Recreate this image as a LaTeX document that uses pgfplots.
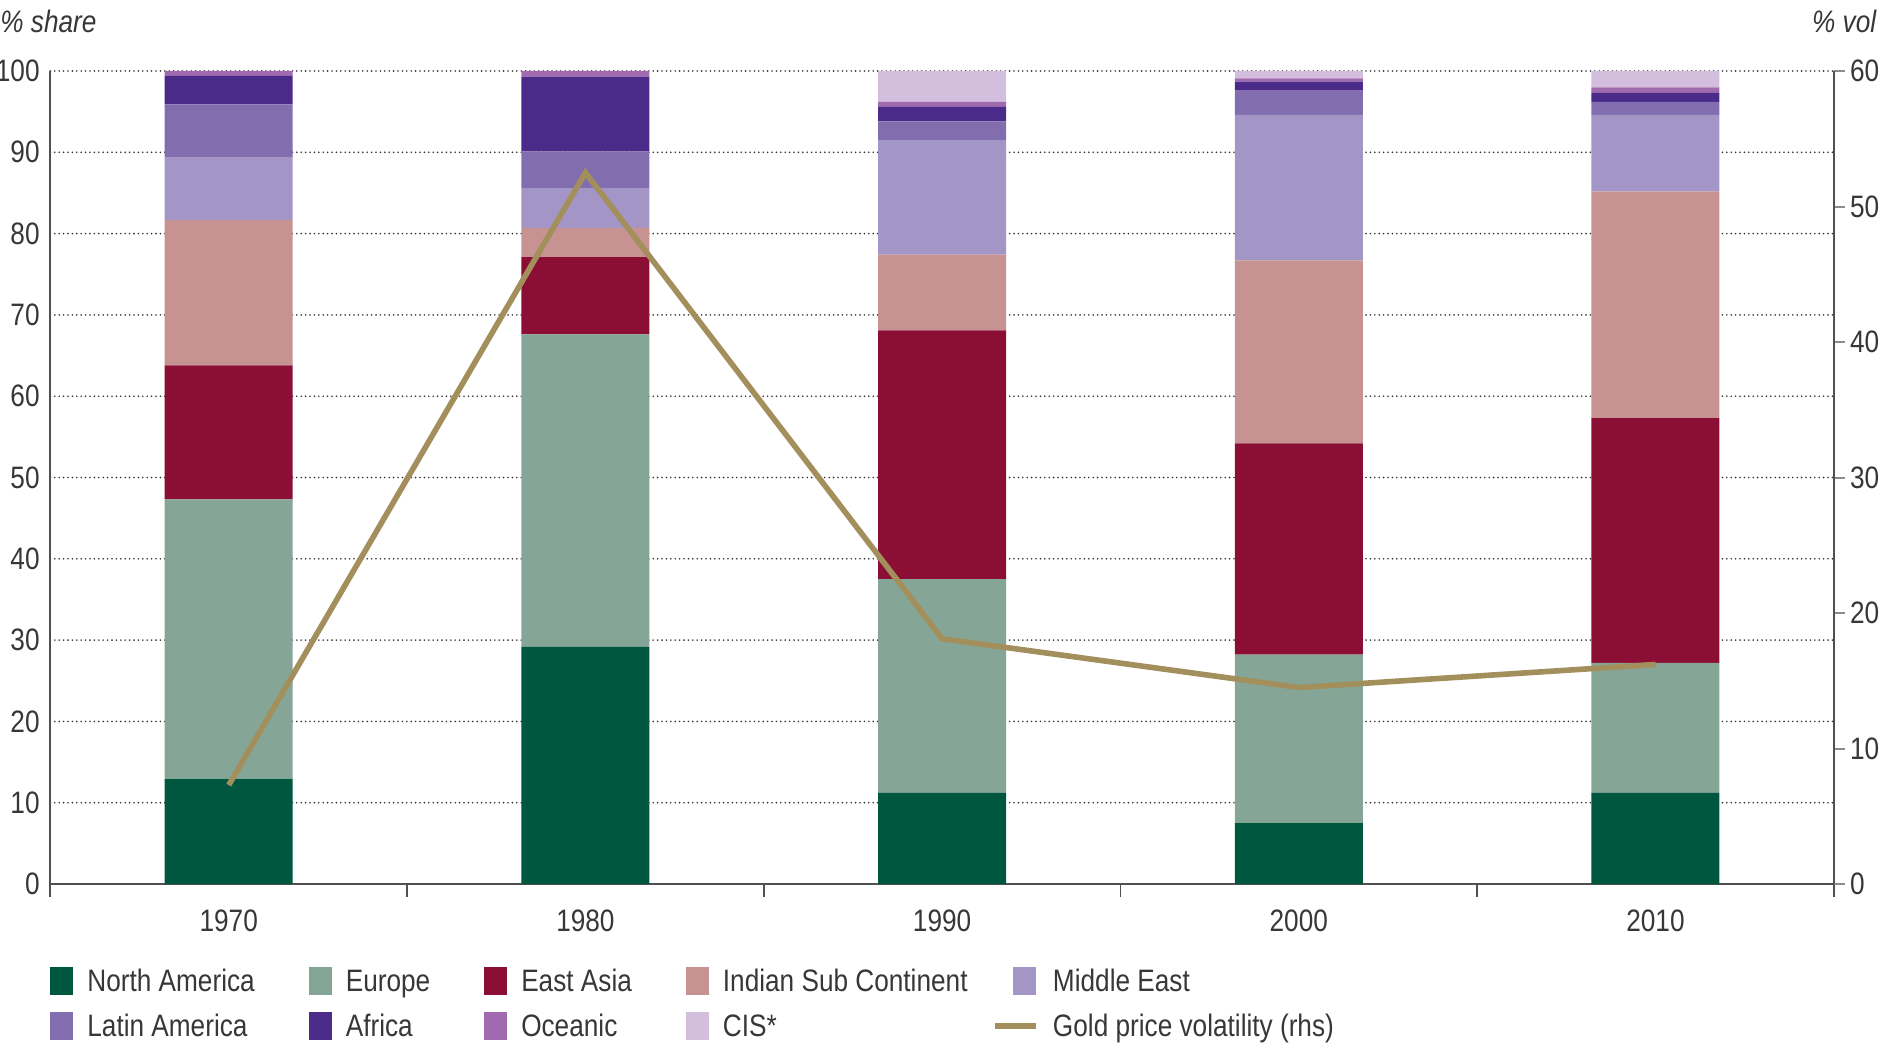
\documentclass[border=0pt]{standalone}
\usepackage{fontspec}
\setmainfont[FakeStretch=0.845]{Liberation Sans}
\usepackage{pgfplots}
\pgfplotsset{compat=1.18}
\definecolor{cNA}{RGB}{0,87,63}
\definecolor{cEU}{RGB}{133,166,150}
\definecolor{cEA}{RGB}{139,14,53}
\definecolor{cISC}{RGB}{198,146,146}
\definecolor{cME}{RGB}{164,149,199}
\definecolor{cLA}{RGB}{130,110,174}
\definecolor{cAF}{RGB}{74,43,138}
\definecolor{cOC}{RGB}{162,106,174}
\definecolor{cCIS}{RGB}{211,190,221}
\definecolor{cGold}{RGB}{163,143,92}
\definecolor{txt}{RGB}{55,55,55}
\definecolor{axisgray}{RGB}{80,80,80}
\definecolor{tickgray}{RGB}{140,140,140}
\pgfplotsset{
  goldlegend/.style={legend image code/.code={\draw[##1] (0pt,4.3pt) -- (20.5pt,4.3pt);}},
  mepatch/.style={legend image code/.code={\fill[##1] (9pt,-2.7pt) rectangle (20.5pt,11.3pt);}},
}
\begin{document}
\fontsize{15.5}{18}\selectfont
\begin{tikzpicture}
\useasboundingbox (-25.2pt,-80.5pt) rectangle (916.3pt,442pt);
\begin{axis}[
  at={(0pt,0pt)}, anchor=south west,
  scale only axis, width=891.7pt, height=406.5pt,
  xmin=-0.5, xmax=4.5, ymin=0, ymax=100,
  ybar stacked, bar width=64pt,
  axis x line*=bottom, axis y line*=left,
  axis line style={draw=axisgray, line width=0.9pt, -},
  xtick={0,1,2,3,4}, xticklabels={1970,1980,1990,2000,2010},
  minor xtick={-0.5,0.5,1.5,2.5,3.5,4.5},
  tick align=outside,
  major tick length=0pt,
  minor tick length=6.5pt,
  minor x tick style={draw=axisgray, line width=0.9pt},
  ytick={0,10,...,100},
  ymajorgrids,
  major grid style={draw=black!80, line width=0.9pt, line cap=round, dash pattern=on 0pt off 2.2pt},
  tick label style={text=txt},
  xticklabel style={anchor=base, yshift=-23.8pt},
  yticklabel style={anchor=east, inner sep=5.2pt},
  /pgf/number format/assume math mode=true,
  legend image code/.code={\fill[#1] (0pt,-2.7pt) rectangle (11.5pt,11.3pt);},
  legend cell align=left,
  legend columns=5,
  legend style={at={(0,0)}, anchor=north west, yshift=-41.5pt, draw=none, fill=none,
    inner sep=0pt, outer sep=0pt,
    nodes={inner sep=0pt, text=txt, text height=12pt, text depth=10.2pt},
    /tikz/every even column/.append style={column sep=27pt},
    /tikz/every odd column/.append style={column sep=7pt},
    row sep=0pt},
]
\addplot[fill=cNA, draw=none] coordinates {(0,12.9) (1,29.2) (2,11.2) (3,7.5) (4,11.2)};
\addlegendentry{North America}
\addplot[fill=cEU, draw=none] coordinates {(0,34.4) (1,38.4) (2,26.3) (3,20.7) (4,16.0)};
\addlegendentry{Europe}
\addplot[fill=cEA, draw=none] coordinates {(0,16.5) (1,9.5) (2,30.6) (3,26.0) (4,30.1)};
\addlegendentry{East Asia}
\addplot[fill=cISC, draw=none] coordinates {(0,17.9) (1,3.6) (2,9.3) (3,22.5) (4,27.9)};
\addlegendentry{Indian Sub Continent\hspace*{-15pt}}
\addplot[fill=cME, draw=none, mepatch] coordinates {(0,7.7) (1,4.9) (2,14.1) (3,17.9) (4,9.4)};
\addlegendentry{Middle East}
\addplot[fill=cLA, draw=none] coordinates {(0,6.5) (1,4.5) (2,2.3) (3,3.0) (4,1.6)};
\addlegendentry{Latin America}
\addplot[fill=cAF, draw=none] coordinates {(0,3.5) (1,9.2) (2,1.8) (3,1.1) (4,1.1)};
\addlegendentry{Africa}
\addplot[fill=cOC, draw=none] coordinates {(0,0.6) (1,0.7) (2,0.6) (3,0.4) (4,0.7)};
\addlegendentry{Oceanic}
\addplot[fill=cCIS, draw=none] coordinates {(0,0) (1,0) (2,3.8) (3,0.9) (4,2.0)};
\addlegendentry{CIS*}
\addlegendimage{goldlegend, draw=cGold, line width=3.2pt}
\addlegendentry{Gold price volatility (rhs)}
\end{axis}
\begin{axis}[
  at={(0pt,0pt)}, anchor=south west,
  scale only axis, width=891.7pt, height=406.5pt,
  xmin=-0.5, xmax=4.5, ymin=0, ymax=60,
  axis x line=none, axis y line*=right,
  axis line style={draw=axisgray, line width=0.9pt, -},
  ytick={0,10,...,60},
  tick align=outside,
  major tick length=5.5pt,
  major y tick style={draw=tickgray, line width=1pt},
  tick label style={text=txt},
  yticklabel style={anchor=west, inner sep=2.4pt},
  /pgf/number format/assume math mode=true,
]
\addplot[draw=cGold, line width=2.8pt, line join=miter] coordinates {(0,7.3) (1,52.5) (2,18.1) (3,14.5) (4,16.2)};
\end{axis}
\node[anchor=base west, inner sep=0pt, text=txt, font=\itshape] at (-25.2pt,425.5pt) {\% share};
\node[anchor=base east, inner sep=0pt, text=txt, font=\itshape] at (913.1pt,425.5pt) {\% vol};
\end{tikzpicture}
\end{document}
